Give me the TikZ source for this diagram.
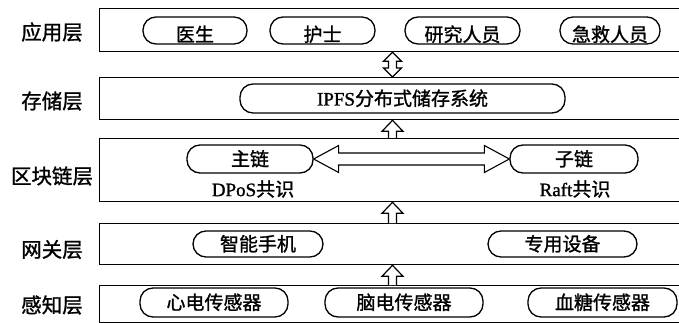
\documentclass[tikz,border=0pt]{standalone}
\usepackage{fontspec}
\setmainfont{Liberation Serif}[FakeBold=1.2]
\newfontfamily\cjk{Noto Sans CJK SC}[FakeBold=1.2]
\usetikzlibrary{calc}
\tikzset{
  layer/.style={draw, line width=1.3pt, anchor=north west, inner sep=0pt, minimum width=600pt},
  lbl/.style={font=\cjk\fontsize{20.5}{20.5}\selectfont, inner sep=0pt},
  pill/.style={draw, line width=1.3pt, rounded corners=13pt, inner sep=0pt,
     font=\cjk\fontsize{19}{19}\selectfont, text height=16pt, text depth=2pt},
  toppill/.style={pill, text height=24pt},
  sub/.style={font=\fontsize{19}{19}\selectfont, inner sep=0pt},
  blk/.style={draw, line width=1.2pt, line join=miter, fill=white},
}
\newcommand\myup[2]{%
  \draw[blk] let \p1=(#1), \p2=(#2) in
    (\x1-4pt,\y1) -- (\x1-4pt,\y2-11pt) -- (\x1-10.5pt,\y2-11pt) -- (\x1,\y2)
    -- (\x1+10.5pt,\y2-11pt) -- (\x1+4pt,\y2-11pt) -- (\x1+4pt,\y1);}
\begin{document}
\begin{tikzpicture}[x=1pt,y=-1pt]
\useasboundingbox (0,0) rectangle (679,323);
\clip (0,0) rectangle (679,323);
% layers
\node[layer, minimum height=43pt] (L1) at (99,8) {};
\node[layer, minimum height=42pt] (L2) at (99,77) {};
\node[layer, minimum height=63pt] (L3) at (99,138) {};
\node[layer, minimum height=41pt] (L4) at (99,223) {};
\node[layer, minimum height=37pt] (L5) at (99,285) {};
% labels
\node[lbl] (t1) at (52,32) {应用层};
\node[lbl] (t2) at (52,101) {存储层};
\node[lbl] (t3) at (52,176) {区块链层};
\node[lbl] (t4) at (52,249.5) {网关层};
\node[lbl] (t5) at (52,305) {感知层};
% application layer
\node[toppill, minimum width=104pt, minimum height=27pt] (a1) at (195,30.5) {医生};
\node[toppill, minimum width=105pt, minimum height=27pt] (a2) at (322.5,30.5) {护士};
\node[toppill, minimum width=115pt, minimum height=27pt] (a3) at (462.5,30.5) {研究人员};
\node[toppill, minimum width=100pt, minimum height=27pt] (a4) at (610,30.5) {急救人员};
% storage
\node[pill, minimum width=325pt, minimum height=29pt] (s1) at (402.5,98.5) {{\rmfamily IPFS}分布式储存系统};
% blockchain
\node[pill, minimum width=126pt, minimum height=28pt] (b1) at (250,159) {主链};
\node[pill, minimum width=128pt, minimum height=28pt] (b2) at (574,159) {子链};
\node[sub] (c1) at (253,189) {DPoS{\cjk 共识}};
\node[sub] (c2) at (575,189) {Raft{\cjk 共识}};
% gateway
\node[pill, minimum width=130pt, minimum height=26pt] (g1) at (258,244) {智能手机};
\node[pill, minimum width=149pt, minimum height=26pt] (g2) at (562.5,244) {专用设备};
% sensing
\node[pill, minimum width=148pt, minimum height=29pt] (p1) at (214,302.5) {心电传感器};
\node[pill, minimum width=158pt, minimum height=29pt] (p2) at (404,302.5) {脑电传感器};
\node[pill, minimum width=149pt, minimum height=29pt] (p3) at (602.5,302.5) {血糖传感器};
% arrows
\coordinate (ax) at (392.5,0);
\draw[blk] let \p1=(L2.north -| ax), \p2=(L1.south -| ax) in
  (\x1,\y1) -- (\x1-9pt,\y1+9pt) -- (\x1-4pt,\y1+9pt) -- (\x1-4pt,\y2-9pt)
  -- (\x1-9pt,\y2-9pt) -- (\x1,\y2) -- (\x1+9pt,\y2-9pt) -- (\x1+4pt,\y2-9pt)
  -- (\x1+4pt,\y1+9pt) -- (\x1+9pt,\y1+9pt) -- cycle;
\myup{L3.north -| ax}{L2.south -| ax}
\myup{L4.north -| ax}{L3.south -| ax}
\myup{L5.north -| ax}{L4.south -| ax}
\draw[blk, line width=1.1pt] let \p1=(b1.east), \p2=(b2.west) in
  (\x1,\y1) -- (\x1+25pt,\y1+13.5pt) -- (\x1+25pt,\y1+6pt) -- (\x2-25pt,\y1+6pt)
  -- (\x2-25pt,\y1+13.5pt) -- (\x2,\y1) -- (\x2-25pt,\y1-13.5pt) -- (\x2-25pt,\y1-6pt)
  -- (\x1+25pt,\y1-6pt) -- (\x1+25pt,\y1-13.5pt) -- cycle;
\end{tikzpicture}
\end{document}
